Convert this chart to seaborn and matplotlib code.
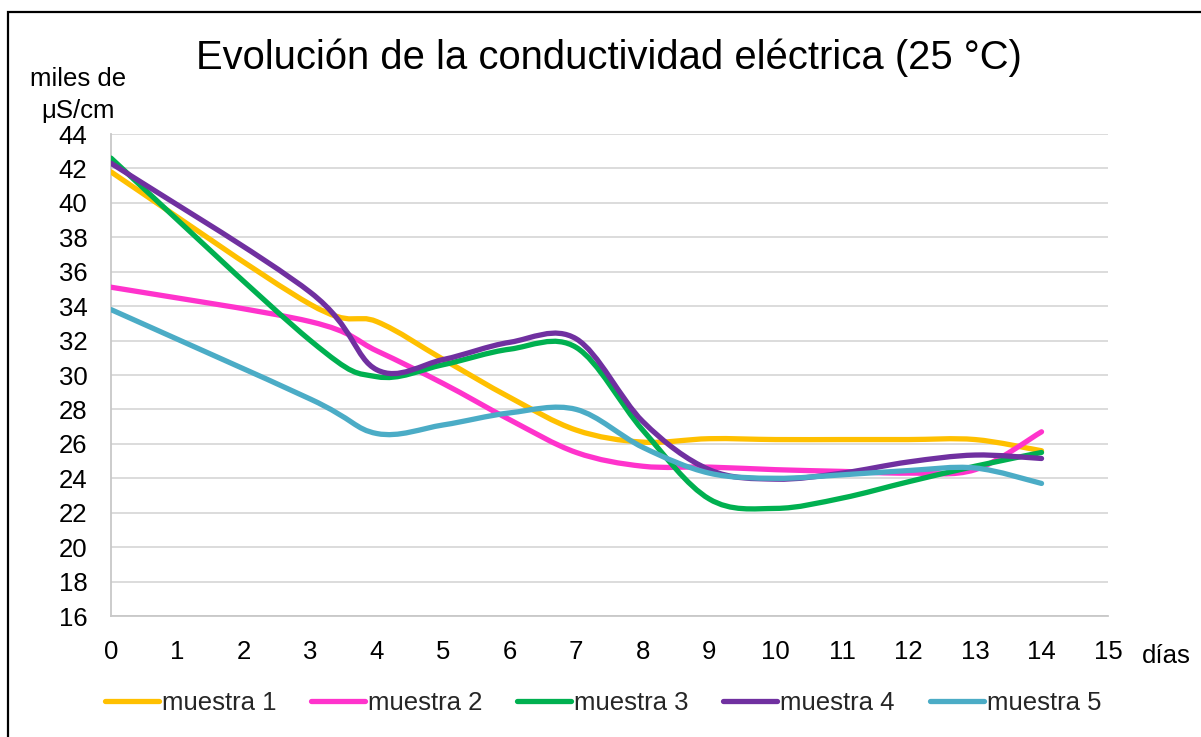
import numpy as np
import pandas as pd
import seaborn as sns
import matplotlib.pyplot as plt
from matplotlib.path import Path
from matplotlib.patches import PathPatch, Rectangle
from matplotlib.lines import Line2D

# days when each sample was measured
dias = [0, 3, 4, 5, 6, 7, 8, 9, 10, 11, 12, 13, 14]

# conductivity, thousands of uS/cm
muestra_1 = [41.8, 34.1, 33.1, 30.9, 28.7, 26.8, 26.1, 26.3, 26.25, 26.25, 26.25, 26.25, 25.6]
muestra_2 = [35.1, 33.1, 31.4, 29.5, 27.4, 25.5, 24.7, 24.65, 24.5, 24.4, 24.3, 24.5, 26.7]
muestra_3 = [42.6, 32.0, 29.9, 30.6, 31.5, 31.6, 26.8, 22.8, 22.25, 22.85, 23.8, 24.7, 25.5]
muestra_4 = [42.3, 34.8, 30.3, 30.9, 31.9, 32.1, 27.3, 24.5, 23.95, 24.3, 24.95, 25.35, 25.15]
muestra_5 = [33.8, 28.6, 26.6, 27.1, 27.8, 28.0, 25.8, 24.3, 24.0, 24.2, 24.45, 24.6, 23.7]

nombres = ['muestra 1', 'muestra 2', 'muestra 3', 'muestra 4', 'muestra 5']
colores = ['#FFC000', '#FF33CC', '#00B050', '#7030A0', '#4BACC6']

xticks = list(range(0, 16))
yticks = list(range(16, 45, 2))

df = pd.DataFrame({'dia': dias, 'muestra 1': muestra_1, 'muestra 2': muestra_2,
                   'muestra 3': muestra_3, 'muestra 4': muestra_4, 'muestra 5': muestra_5})
df = df.melt(id_vars='dia', var_name='muestra', value_name='valor')

sns.set_theme(style="white")
plt.rcParams['font.family'] = ['Liberation Sans', 'DejaVu Sans']
palette = sns.color_palette(colores)


def smooth_path(x, y):
    # excel-like smoothed line: cubic bezier through the points
    p = np.column_stack([x, y]).astype(float)
    n = len(p)
    verts = [p[0]]
    codes = [Path.MOVETO]
    for i in range(n - 1):
        p0 = p[i - 1] if i > 0 else p[i]
        p3 = p[i + 2] if i + 2 < n else p[i + 1]
        c1 = p[i] + (p[i + 1] - p0) / 6
        c2 = p[i + 1] - (p3 - p[i]) / 6
        verts += [c1, c2, p[i + 1]]
        codes += [Path.CURVE4] * 3
    return Path(verts, codes)


fig = plt.figure(figsize=(12.01, 7.37), dpi=100)
ax = fig.add_axes([111 / 1201, 121 / 737, 997 / 1201, 482 / 737])

for nombre, color in zip(nombres, palette):
    sub = df[df['muestra'] == nombre]
    patch = PathPatch(smooth_path(sub['dia'], sub['valor']), fill=False,
                      edgecolor=color, lw=3.8, capstyle='round', joinstyle='round', zorder=3)
    ax.add_patch(patch)

ax.set_xlim(0, 15)
ax.set_ylim(16, 44)
ax.set_xticks(xticks)
ax.set_yticks(yticks)
ax.tick_params(axis='both', length=0, labelsize=18.5, colors='black')
ax.tick_params(axis='x', pad=17)
ax.tick_params(axis='y', pad=17)
ax.yaxis.grid(True, color='#d9d9d9', lw=1.3)
ax.set_axisbelow(True)
for s in ['top', 'right']:
    ax.spines[s].set_visible(False)
for s in ['left', 'bottom']:
    ax.spines[s].set_color('#c8c8c8')
    ax.spines[s].set_linewidth(1.3)

fig.text(609 / 1201, 1 - 58 / 737, 'Evolución de la conductividad eléctrica (25 °C)',
         ha='center', va='center', fontsize=28.8, color='black')
fig.text(78 / 1201, 1 - 95 / 737, 'miles de\nμS/cm', ha='center', va='center',
         fontsize=18.5, linespacing=1.45, color='black')
fig.text(1166 / 1201, 1 - 656 / 737, 'días', ha='center', va='center',
         fontsize=18.5, color='black')

handles = [Line2D([], [], color=c, lw=3.8, solid_capstyle='round') for c in palette]
fig.legend(handles, nombres, loc='center', bbox_to_anchor=(603 / 1201, 1 - 703 / 737),
           ncol=5, frameon=False, fontsize=18.5, handlelength=2.1, handletextpad=0.12,
           columnspacing=1.35)

fig.add_artist(Rectangle((8 / 1201, -0.05), 1.1, 0.05 + 1 - 12 / 737,
                         transform=fig.transFigure, fill=False, ec='black', lw=1.6))

fig.savefig('out.png', dpi=100)
